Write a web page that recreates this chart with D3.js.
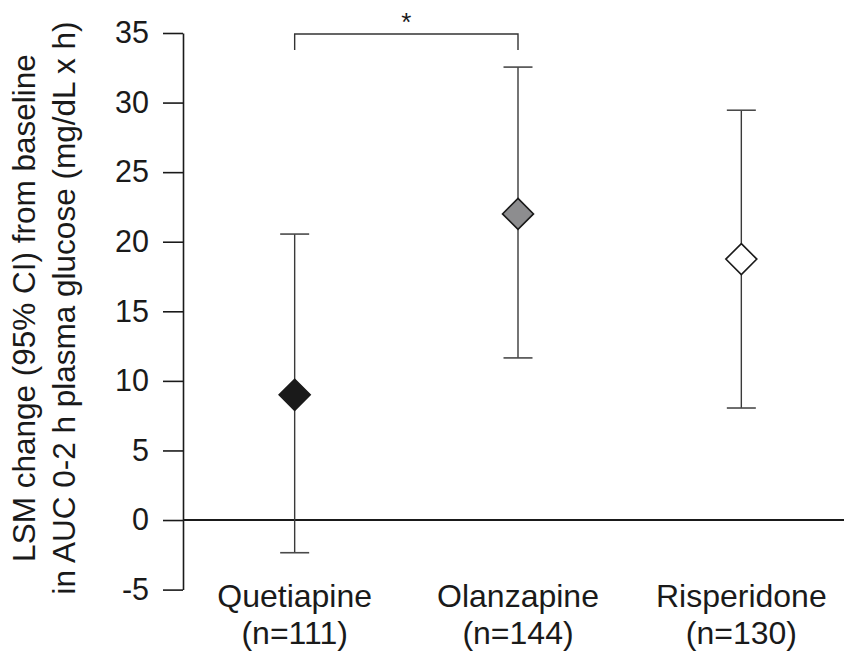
<!DOCTYPE html>
<html>
<head>
<meta charset="utf-8">
<script src="https://cdn.jsdelivr.net/npm/d3@7"></script>
<style>
  body { margin: 0; background: #fff; }
  text { font-family: "Liberation Sans", Arial, sans-serif; fill: #1a1a1a; }
</style>
</head>
<body>
<svg id="chart" width="844" height="659"></svg>
<script>
// data
var drugs = ["Quetiapine", "Olanzapine", "Risperidone"];
var nLabels = ["(n=111)", "(n=144)", "(n=130)"];
var lsm = [9.0, 22.0, 18.75];
var ciLow = [-2.35, 11.65, 8.05];
var ciHigh = [20.55, 32.55, 29.45];
var fills = ["#1a1a1a", "#8d8d8f", "#ffffff"];
var yTicks = [-5, 0, 5, 10, 15, 20, 25, 30, 35];

var width = 844, height = 659;
var mLeft = 183, mRight = 853, mTop = 33, mBottom = 589.6;

var svg = d3.select("#chart");

var x = d3.scalePoint()
    .domain(drugs)
    .range([mLeft, mRight])
    .padding(0.5);

var y = d3.scaleLinear()
    .domain([-5, 35])
    .range([mBottom, mTop]);

// y axis
var yAxis = svg.append("g")
    .attr("transform", "translate(" + mLeft + ",0)")
    .call(d3.axisLeft(y).tickValues(yTicks).tickSize(20).tickPadding(14).tickSizeOuter(0)
      .tickFormat(function(d){ return String(d); }));
yAxis.select(".domain").attr("stroke", "#1a1a1a").attr("stroke-width", 1.6);
yAxis.selectAll(".tick line").attr("stroke", "#1a1a1a").attr("stroke-width", 1.6);
yAxis.selectAll(".tick text")
    .style("font-size", "30.5px")
    .style("font-family", "'Liberation Sans', Arial, sans-serif")
    .attr("fill", "#1a1a1a");

// zero line
svg.append("line")
    .attr("x1", mLeft).attr("x2", width)
    .attr("y1", y(0)).attr("y2", y(0))
    .attr("stroke", "#1a1a1a").attr("stroke-width", 2);

// y label
var ylab = svg.append("text")
    .attr("transform", "translate(0,308) rotate(-90)")
    .attr("text-anchor", "middle")
    .style("font-size", "31.5px");
ylab.append("tspan").attr("x", 0).attr("y", 35).text("LSM change (95% CI) from baseline");
ylab.append("tspan").attr("x", 0).attr("y", 75).text("in AUC 0-2 h plasma glucose (mg/dL x h)");

// category labels
drugs.forEach(function(d, i) {
  var t = svg.append("text")
      .attr("text-anchor", "middle")
      .style("font-size", "32px");
  t.append("tspan").attr("x", x(d)).attr("y", 607).text(d);
  t.append("tspan").attr("x", x(d)).attr("y", 644).text(nLabels[i]);
});

// error bars
var g = svg.selectAll(".pt")
    .data(drugs)
    .enter()
    .append("g")
      .attr("class", "pt");

g.append("line")
    .attr("x1", function(d){ return x(d); })
    .attr("x2", function(d){ return x(d); })
    .attr("y1", function(d, i){ return y(ciLow[i]); })
    .attr("y2", function(d, i){ return y(ciHigh[i]); })
    .attr("stroke", "#3a3a3a").attr("stroke-width", 1.4);

[ciLow, ciHigh].forEach(function(arr) {
  g.append("line")
      .attr("x1", function(d){ return x(d) - 14.5; })
      .attr("x2", function(d){ return x(d) + 14.5; })
      .attr("y1", function(d, i){ return y(arr[i]); })
      .attr("y2", function(d, i){ return y(arr[i]); })
      .attr("stroke", "#4a4a4a").attr("stroke-width", 1.6);
});

g.append("path")
    .attr("d", "M0,-15.5L15.5,0L0,15.5L-15.5,0Z")
    .attr("transform", function(d, i){ return "translate(" + x(d) + "," + y(lsm[i]) + ")"; })
    .attr("fill", function(d, i){ return fills[i]; })
    .attr("stroke", "#1a1a1a").attr("stroke-width", 1.6);

// significance bracket
var by = y(35) + 1;
svg.append("path")
    .attr("d", "M" + x(drugs[0]) + "," + (by + 16) + "V" + by + "H" + x(drugs[1]) + "V" + (by + 16))
    .attr("fill", "none").attr("stroke", "#333").attr("stroke-width", 1.4);
svg.append("text")
    .attr("x", (x(drugs[0]) + x(drugs[1])) / 2)
    .attr("y", 31)
    .attr("text-anchor", "middle")
    .style("font-size", "26px")
    .text("*");
</script>
</body>
</html>
